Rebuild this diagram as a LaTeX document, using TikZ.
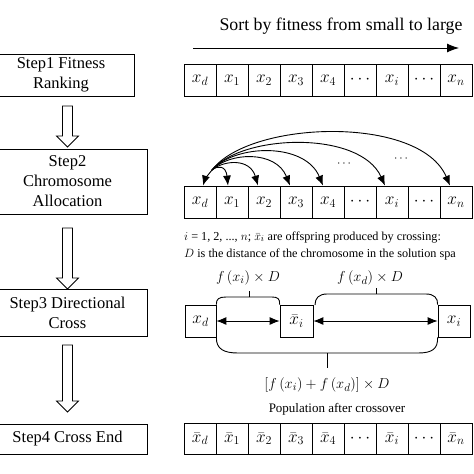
\documentclass[tikz,border=0pt]{standalone}
\usepackage{fontspec}
\setmainfont{Liberation Serif}
\usetikzlibrary{arrows.meta,calc}
\begin{document}
\begin{tikzpicture}[x=1pt,y=-1pt,
  stepbox/.style={draw,line width=0.9pt,align=center,inner sep=0pt,font=\fontsize{16.5}{20}\selectfont},
  cell/.style={draw,line width=0.8pt,minimum width=32pt,minimum height=32pt,inner sep=0pt,font=\fontsize{18}{20}\selectfont},
  hollow/.style={draw,line width=0.8pt,fill=white},
  arc/.style={line width=0.9pt,-{Latex[length=10pt,width=8pt]}},
  dbl/.style={line width=0.9pt,{Latex[length=10pt,width=8pt]}-{Latex[length=10pt,width=8pt]}},
  brk/.style={line width=0.9pt},
  lbl/.style={font=\fontsize{15.5}{17}\selectfont,inner sep=0pt},
  note/.style={font=\fontsize{12.2}{13}\selectfont,inner sep=0pt,anchor=base west}
]
\useasboundingbox (0,0) rectangle (474,474);

% left step boxes
\node[stepbox,minimum width=146pt,minimum height=42pt] (s1) at (61,75) {Step1 Fitness\\Ranking};
\node[stepbox,minimum width=159pt,minimum height=65pt] (s2) at (67.5,181.5) {Step2\\Chromosome\\Allocation};
\node[stepbox,minimum width=159pt,minimum height=47pt] (s3) at (67.5,312.5) {Step3 Directional\\Cross};
\node[stepbox,minimum width=159pt,minimum height=30pt] (s4) at (67.5,439) {Step4 Cross End};

% hollow arrows
\coordinate (h1) at (67.5,106);
\coordinate (h2) at (67.5,228);
\coordinate (h3) at (67.5,345);
\draw[hollow] (h1) ++(-5,0) -- ++(0,30) -- ++(-6,0) -- ++(11,11) -- ++(11,-11) -- ++(-6,0) -- ++(0,-30) -- cycle;
\draw[hollow] (h2) ++(-5,0) -- ++(0,50) -- ++(-6,0) -- ++(11,11) -- ++(11,-11) -- ++(-6,0) -- ++(0,-50) -- cycle;
\draw[hollow] (h3) ++(-5,0) -- ++(0,56) -- ++(-6,0) -- ++(11,11) -- ++(11,-11) -- ++(-6,0) -- ++(0,-56) -- cycle;

% top sorting arrow
\node[font=\fontsize{17.8}{19}\selectfont,inner sep=0pt] (sort) at (341,26) {Sort by fitness from small to large};
\coordinate (sa) at (193,48);
\coordinate (sb) at (459,48);
\draw[line width=0.9pt,-{Latex[length=12pt,width=9pt]}] (sa) -- (sb);

% arrays
\foreach \t [count=\k] in {x_d,x_1,x_2,x_3,x_4,\cdots,x_i,\cdots,x_n}{
  \node[cell] (a\k) at (168+32*\k,80) {$\t$};
  \node[cell] (b\k) at (168+32*\k,202) {$\t$};
}
\foreach \t [count=\k] in {\bar{x}_d,\bar{x}_1,\bar{x}_2,\bar{x}_3,\bar{x}_4,\cdots,\bar{x}_i,\cdots,\bar{x}_n}{
  \node[cell,minimum height=31pt] (c\k) at (168+32*\k,438.5) {$\t$};
}

% allocation arcs
\coordinate (o) at (212,170);
\draw[arc] (o) .. controls (208,175) and (205,179) .. ([xshift=3pt]b1.north);
\draw[arc] (o) .. controls (218,165) and (226,166) .. ([xshift=-4pt]b2.north);
\draw[arc] (o) .. controls (224,160) and (250,158) .. ([xshift=-6pt]b3.north);
\draw[arc] (o) .. controls (229,152) and (276,150) .. ([xshift=-6pt]b4.north);
\draw[arc] (o) .. controls (235,144) and (305,142) .. ([xshift=-5pt]b5.north);
\draw[arc] (o) .. controls (242,134) and (360,130) .. ([xshift=-7pt]b7.north);
\draw[arc] (o) .. controls (250,120) and (420,115) .. ([xshift=-6pt]b9.north);
\node[font=\fontsize{13}{14}\selectfont,inner sep=0pt] (e1) at (344,164) {$\cdots$};
\node[font=\fontsize{13}{14}\selectfont,inner sep=0pt] (e2) at (401,159) {$\cdots$};

% notes
\node[note] (n1) at (184,240) {$i$ = 1, 2, ..., $n$; $\bar{x}_i$ are offspring produced by crossing:};
\node[note] (n2) at (184,257) {$D$ is the distance of the chromosome in the solution spa};

% directional cross
\node[cell,minimum width=31pt] (xd) at (200.5,321) {$x_d$};
\node[cell,minimum width=33pt] (xb) at (296.5,321) {$\bar{x}_i$};
\node[cell] (xi) at (454,321) {$x_i$};
\draw[dbl] (xd.east) -- (xb.west);
\draw[dbl] (xb.east) -- (xi.west);

\coordinate (t1) at (249,291);
\coordinate (t2) at (376,288);
\coordinate (t3) at (327,368);
\draw[brk] (xd.north east) .. controls (216,299) and (219,297) .. (226,297) -- (272,297) .. controls (278,297) and (280,299) .. (xb.north west);
\draw[brk] (249,297) -- (t1);
\draw[brk] (315,305) .. controls (315,298) and (319,294) .. (327,294) -- (426,294) .. controls (434,294) and (438,298) .. (xi.north west);
\draw[brk] (376,294) -- (t2);
\draw[brk] (xd.south east) .. controls (216,349) and (224,353) .. (238,353) -- (418,353) .. controls (432,353) and (438,349) .. (xi.south west);
\draw[brk] (327,353) -- (t3);

\node[lbl] (l1) at (248,278) {$f\,(x_i)\times D$};
\node[lbl] (l2) at (370,278) {$f\,(x_d)\times D$};
\node[lbl] (l3) at (327,385) {$[f\,(x_i)+f\,(x_d)]\times D$};
\node[font=\fontsize{13}{14}\selectfont,inner sep=0pt] (pop) at (337,409) {Population after crossover};
\end{tikzpicture}
\end{document}
